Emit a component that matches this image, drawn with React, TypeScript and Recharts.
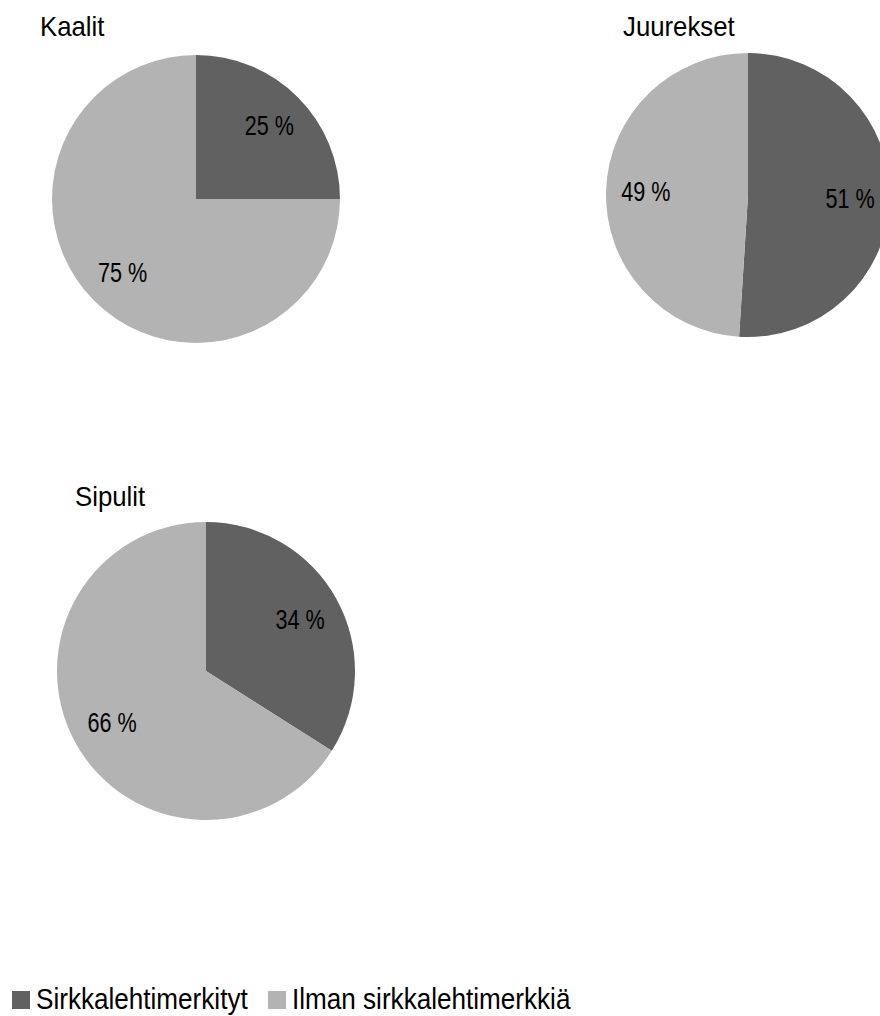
import React from 'react';
import { PieChart, Pie, Cell, Legend } from 'recharts';

const categories = ['Sirkkalehtimerkityt', 'Ilman sirkkalehtimerkkiä'];
const colors = ['#616161', '#b3b3b3'];
const kaalit = [25, 75];
const juurekset = [51, 49];
const sipulit = [34, 66];
const titles = ['Kaalit', 'Juurekset', 'Sipulit'];

const FONT = '"Liberation Sans", Arial, sans-serif';

const toData = (vals: number[]) => categories.map((name, i) => ({ name, value: vals[i] }));

const RAD = Math.PI / 180;
const renderLabel = (props: any) => {
  const { cx, cy, midAngle, outerRadius, value } = props;
  const r = outerRadius * 0.72;
  const x = cx + r * Math.cos(-midAngle * RAD);
  const y = cy + r * Math.sin(-midAngle * RAD);
  return (
    <text
      transform={`translate(${x},${y}) scale(0.8,1)`}
      x={0}
      y={0}
      textAnchor="middle"
      dominantBaseline="central"
      fill="#000"
      fontSize={27}
      fontFamily={FONT}
    >
      {`${value} %`}
    </text>
  );
};

const legendX = [12, 268];
const LegendContent = () => (
  <svg width={640} height={40} style={{ display: 'block' }}>
    {categories.map((c, i) => (
      <g key={c}>
        <rect x={legendX[i]} y={11} width={18} height={18} fill={colors[i]} />
        <text
          transform={`translate(${legendX[i] + 24},29) scale(0.87,1)`}
          x={0}
          y={0}
          fontSize={30}
          fontFamily={FONT}
          fill="#000"
        >
          {c}
        </text>
      </g>
    ))}
  </svg>
);

const pies = [
  { data: toData(kaalit), cx: 196, cy: 199, r: 144 },
  { data: toData(juurekset), cx: 748, cy: 195, r: 142 },
  { data: toData(sipulit), cx: 206, cy: 671, r: 149 },
];

const titlePos = [
  { left: 40, top: 13 },
  { left: 623, top: 13 },
  { left: 75, top: 483 },
];

export default function App() {
  return (
    <div style={{ position: 'absolute', left: 0, top: 0, width: 880, height: 1016, background: '#fff', overflow: 'hidden' }}>
      <PieChart width={880} height={1016} margin={{ top: 0, right: 0, bottom: 0, left: 0 }}>
        {pies.map((p, k) => (
          <Pie
            key={k}
            data={p.data}
            dataKey="value"
            nameKey="name"
            cx={p.cx}
            cy={p.cy}
            outerRadius={p.r}
            startAngle={90}
            endAngle={-270}
            stroke="none"
            label={renderLabel}
            labelLine={false}
            isAnimationActive={false}
          >
            {p.data.map((d, i) => (
              <Cell key={d.name} fill={colors[i]} />
            ))}
          </Pie>
        ))}
        <Legend
          content={<LegendContent />}
          wrapperStyle={{ position: 'absolute', left: 0, top: 980, width: 640 }}
        />
      </PieChart>
      {titles.map((t, i) => (
        <div
          key={t}
          style={{
            position: 'absolute',
            left: titlePos[i].left,
            top: titlePos[i].top,
            fontFamily: FONT,
            fontSize: 28,
            lineHeight: '28px',
            color: '#000',
            transform: 'scaleX(0.92)',
            transformOrigin: 'left top',
            whiteSpace: 'nowrap',
          }}
        >
          {t}
        </div>
      ))}
    </div>
  );
}
